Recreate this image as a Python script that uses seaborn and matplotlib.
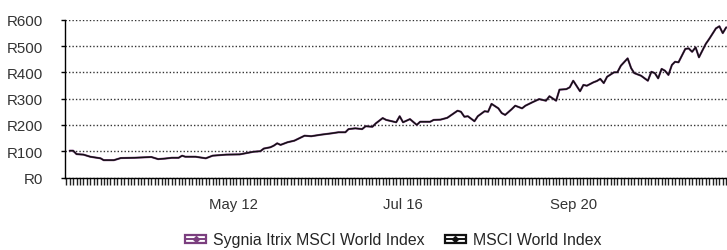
import pandas as pd
import seaborn as sns
import matplotlib.pyplot as plt
import matplotlib.dates as mdates
from matplotlib.legend_handler import HandlerBase
from matplotlib.patches import Rectangle
from matplotlib.lines import Line2D

# months since May 2008
start = "2008-05-01"
month_offsets = [0, 1, 2, 4, 6, 9, 10, 13, 15, 19,
                 24, 26, 28, 30, 32, 33, 34, 37, 40, 42,
                 46, 50, 54, 56, 57, 59, 60, 61, 62, 64,
                 66, 69, 71, 74, 77, 79, 81, 82, 84, 86,
                 87, 89, 90, 92, 93, 96, 97, 98, 100, 102,
                 103, 106, 107, 109, 111, 114, 115, 116, 117, 119,
                 120, 122, 123, 124, 126, 127, 128, 130, 131, 133,
                 134, 136, 138, 140, 141, 143, 144, 146, 147, 148,
                 150, 151, 152, 154, 155, 156, 157, 158, 160, 161,
                 162, 164, 165, 166, 168, 170, 171, 172, 173, 174,
                 175, 176, 177, 178, 179, 181, 182, 183, 184, 185,
                 187, 188, 190, 191, 192, 193]
msci_world = [102, 102, 89, 87, 79, 73, 66, 66, 74, 75,
              78, 70, 72, 75, 75, 83, 79, 79, 73, 83,
              87, 88, 98, 100, 110, 115, 121, 130, 124, 134,
              140, 159, 157, 163, 168, 172, 172, 184, 187, 184,
              195, 193, 206, 226, 219, 210, 233, 210, 222, 200,
              212, 212, 219, 220, 227, 254, 250, 231, 233, 214,
              233, 252, 250, 280, 263, 245, 238, 260, 273, 263,
              273, 286, 298, 292, 309, 292, 334, 336, 343, 368,
              328, 352, 349, 362, 367, 375, 359, 383, 400, 400,
              425, 453, 416, 397, 387, 368, 402, 397, 377, 413,
              406, 390, 428, 440, 438, 489, 491, 478, 495, 457,
              508, 527, 567, 575, 549, 571]
# the fund tracks the index, its line sits under the black one
sygnia_itrix = list(msci_world)

series_names = ["Sygnia Itrix MSCI World Index", "MSCI World Index"]
series_colors = ["#7b3f7f", "#111111"]
y_ticks = [0, 100, 200, 300, 400, 500, 600]
x_label_dates = ["2012-05-01", "2016-07-01", "2020-09-01"]

months = pd.date_range(start, periods=200, freq="MS")
dates = months[month_offsets]
df = pd.concat([
    pd.DataFrame({"date": dates, "value": sygnia_itrix, "series": series_names[0]}),
    pd.DataFrame({"date": dates, "value": msci_world, "series": series_names[1]}),
])

sns.set_style("white")
plt.rcParams["font.family"] = ["Liberation Sans", "DejaVu Sans"]

fig = plt.figure(figsize=(7.27, 2.51), dpi=100)
ax = fig.add_axes([0.0894, 0.2888, 0.9106, 0.6287])

sns.lineplot(data=df[df.series == series_names[0]], x="date", y="value",
             color=series_colors[0], lw=1.5, ax=ax, legend=False)
sns.lineplot(data=df[df.series == series_names[1]], x="date", y="value",
             color=series_colors[1], lw=1.0, ax=ax, legend=False)

ax.set_ylim(0, 600)
ax.set_yticks(y_ticks)
ax.set_yticklabels(["R%d" % v for v in y_ticks])
ax.set_xlim(pd.Timestamp("2008-03-20"), pd.Timestamp("2024-06-08"))
ax.set_xticks(pd.to_datetime(x_label_dates))
ax.xaxis.set_major_formatter(mdates.DateFormatter("%b %y"))
ax.xaxis.set_minor_locator(mdates.MonthLocator())
ax.set_xlabel("")
ax.set_ylabel("")

ax.grid(axis="y", color="#333333", linestyle=(0, (1, 1.5)), lw=1)
for s in ["top", "right"]:
    ax.spines[s].set_visible(False)
for s in ["left", "bottom"]:
    ax.spines[s].set_color("black")
    ax.spines[s].set_linewidth(1)

ax.tick_params(axis="y", left=True, length=3, width=1, color="black",
               pad=13, labelsize=10.8, labelcolor="#333333")
ax.tick_params(axis="x", which="both", bottom=True, length=5, width=1,
               color="#222222", pad=9, labelsize=10.7, labelcolor="#333333")


class BoxHandler(HandlerBase):
    def create_artists(self, legend, orig_handle, xdescent, ydescent,
                       width, height, fontsize, trans):
        c = orig_handle.get_color()
        x0 = -xdescent
        y0 = -ydescent
        mid = y0 + height / 2
        box = Rectangle((x0, y0 + 0.1 * height), width, 0.8 * height,
                        fc="white", ec=c, lw=1.6, transform=trans)
        line = Line2D([x0, x0 + width], [mid, mid], color=c, lw=1.4,
                      transform=trans)
        mk = Line2D([x0 + width / 2], [mid], marker="D", ms=3, color=c,
                    transform=trans)
        return [box, line, mk]


handles = [Line2D([], [], color=c) for c in series_colors]
fig.legend(handles, series_names, loc="center", bbox_to_anchor=(0.541, 0.04),
           ncol=2, frameon=False, fontsize=11.4, handlelength=1.3,
           handleheight=0.55, handletextpad=0.45, columnspacing=1.3,
           handler_map={Line2D: BoxHandler()})

fig.savefig("out.png", dpi=100)
